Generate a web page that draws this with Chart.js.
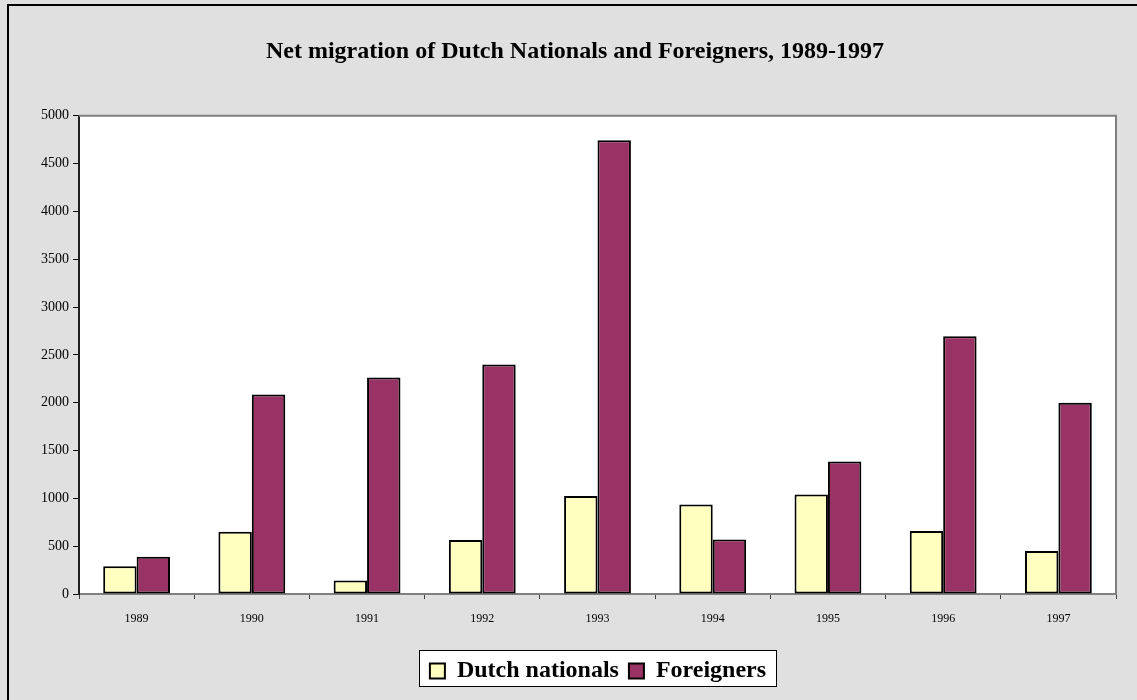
<!DOCTYPE html>
<html>
<head>
<meta charset="utf-8">
<script src="https://cdn.jsdelivr.net/npm/chart.js@4"></script>
<style>
  html, body { margin: 0; padding: 0; background: #e0e0e0; }
  #wrap { position: relative; width: 1137px; height: 700px; }
</style>
</head>
<body>
<div id="wrap"><canvas id="chart" width="1137" height="700"></canvas></div>
<script>
// Data
const years = ["1989", "1990", "1991", "1992", "1993", "1994", "1995", "1996", "1997"];
const dutchNationals = [290, 650, 140, 565, 1025, 935, 1040, 660, 450];
const foreigners = [390, 2085, 2265, 2400, 4745, 570, 1385, 2695, 2000];
const yMin = 0;
const yMax = 5000;
const yStep = 500;

const serif = "'Liberation Serif', 'Times New Roman', serif";

// Background, outer frame, white plot area and boxed legend
const framePlugin = {
  id: "frame",
  afterLayout(chart) {
    // nudge title and legend to sit where the original has them
    const t = chart.titleBlock, lg = chart.legend;
    if (t) { t.left += 17; t.right += 17; }
    if (lg) { lg.left += 40; lg.right += 40; }
  },
  beforeDraw(chart) {
    const { ctx, chartArea: a, legend } = chart;
    ctx.save();
    ctx.fillStyle = "#e0e0e0";
    ctx.fillRect(0, 0, chart.width, chart.height);
    ctx.strokeStyle = "#000";
    ctx.lineWidth = 2;
    ctx.beginPath();
    ctx.moveTo(8, chart.height);
    ctx.lineTo(8, 5);
    ctx.lineTo(chart.width, 5);
    ctx.stroke();

    ctx.fillStyle = "#fff";
    ctx.fillRect(a.left, a.top, a.right - a.left, a.bottom - a.top);

    if (legend && legend.lineWidths) {
      const w = legend.lineWidths[0] - legend.options.labels.padding;
      const mid = (legend.left + legend.right) / 2;
      const l = mid - w / 2 - 11;
      const r = mid + w / 2 + 10;
      const t = 650, b = 686;
      ctx.fillStyle = "#fff";
      ctx.fillRect(l, t, r - l, b - t);
      ctx.strokeStyle = "#000";
      ctx.lineWidth = 1;
      ctx.strokeRect(Math.round(l) + 0.5, t + 0.5, Math.round(r - l), b - t);
    }
    ctx.restore();
  },
  beforeDatasetsDraw(chart) {
    const { ctx, chartArea: a } = chart;
    ctx.save();
    ctx.strokeStyle = "#808080";
    ctx.lineWidth = 2;
    ctx.beginPath();
    ctx.moveTo(a.left, a.top);
    ctx.lineTo(a.right, a.top);
    ctx.lineTo(a.right, a.bottom);
    ctx.stroke();
    ctx.restore();
  }
};

new Chart(document.getElementById("chart"), {
  type: "bar",
  data: {
    labels: years,
    datasets: [
      {
        label: "Dutch nationals",
        data: dutchNationals,
        backgroundColor: "#ffffc0",
        borderColor: "#000",
        borderWidth: 2,
        borderSkipped: false,
      },
      {
        label: "Foreigners",
        data: foreigners,
        backgroundColor: "#993366",
        borderColor: "#000",
        borderWidth: 2,
        borderSkipped: false,
      },
    ],
  },
  options: {
    responsive: false,
    animation: false,
    categoryPercentage: 0.58,
    barPercentage: 1.0,
    layout: { padding: { top: 37, right: 21, bottom: 7, left: 0 } },
    scales: {
      x: {
        grid: {
          offset: true,
          drawOnChartArea: false,
          tickLength: 5,
          color: "#404040",
          lineWidth: 1,
        },
        border: { color: "#808080", width: 2 },
        ticks: {
          color: "#000",
          padding: 13,
          font: { family: serif, size: 12 },
          maxRotation: 0,
        },
        afterFit(scale) { scale.height = 55; },
      },
      y: {
        min: yMin,
        max: yMax,
        ticks: {
          stepSize: yStep,
          color: "#000",
          padding: 4,
          font: { family: serif, size: 14 },
          callback: (v) => String(v),
        },
        grid: {
          drawOnChartArea: false,
          tickLength: 6,
          color: "#000",
          lineWidth: 1,
        },
        border: { color: "#202020", width: 2 },
        afterFit(scale) { scale.width = 79; },
      },
    },
    plugins: {
      title: {
        display: true,
        text: "Net migration of Dutch Nationals and Foreigners, 1989-1997",
        color: "#000",
        font: { family: serif, size: 24, weight: "bold" },
        padding: { top: 0, bottom: 50 },
      },
      legend: {
        position: "bottom",
        labels: {
          color: "#000",
          boxWidth: 15,
          boxHeight: 15,
          padding: 10,
          font: { family: serif, size: 24, weight: "bold" },
        },
      },
      tooltip: { enabled: false },
    },
  },
  plugins: [framePlugin],
});
</script>
</body>
</html>
